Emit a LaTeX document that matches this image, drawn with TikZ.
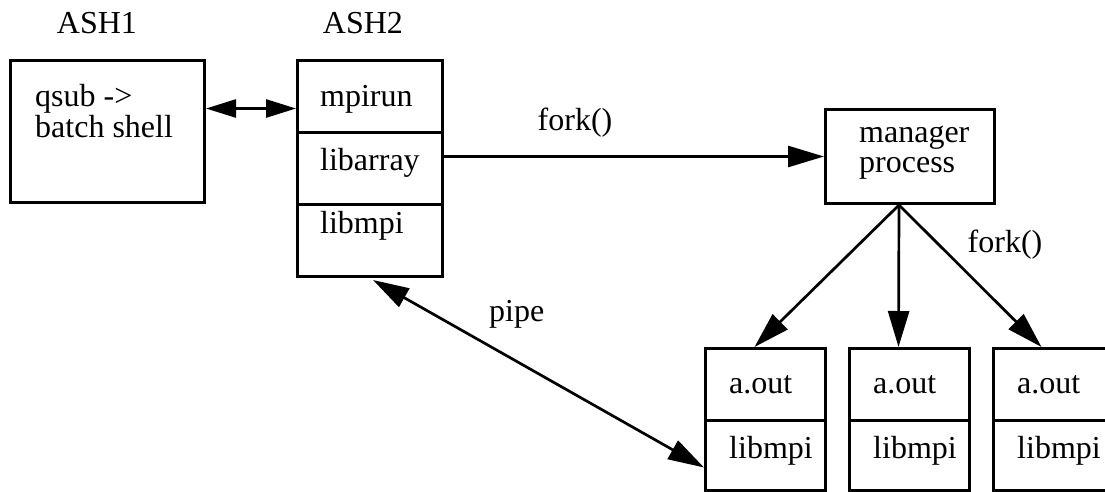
\documentclass[tikz,border=0pt]{standalone}
\usepackage{fontspec}
\setmainfont{Liberation Serif}
\newfontfamily\figfont{Liberation Serif}
\usetikzlibrary{arrows.meta}
\begin{document}
\begin{tikzpicture}[x=1pt,y=-1pt,
  cell/.style={draw,line width=3pt,rectangle,inner sep=0pt,anchor=north west},
  txt/.style={anchor=base west,inner sep=0pt,font=\figfont\fontsize{32}{31}\selectfont},
  ctxt/.style={anchor=base,inner sep=0pt,font=\figfont\fontsize{32}{31}\selectfont},
  link/.style={line width=2.7pt,-{Triangle[length=36pt,width=21pt]}},
  twoway/.style={line width=2.7pt,{Triangle[length=36pt,width=21pt]}-{Triangle[length=36pt,width=21pt]}},
  shortway/.style={line width=2.7pt,{Triangle[length=30pt,width=18pt]}-{Triangle[length=30pt,width=18pt]}},
]
\useasboundingbox (0,0) rectangle (1105,491);

% host headings
\node[ctxt] (lash1) at (97,33) {ASH1};
\node[ctxt] (lash2) at (363,33) {ASH2};

% batch shell on ASH1
\node[cell,minimum width=194pt,minimum height=142pt] (ash1) at (9,59) {};
\node[txt] (qsubA) at (35,106) {qsub ->};
\node[txt] (qsubB) at (35,137) {batch shell};

% mpirun stack on ASH2
\node[cell,minimum width=145pt,minimum height=72pt] (mpirun) at (296,59) {};
\node[cell,minimum width=145pt,minimum height=72pt] (libarray) at (296,131) {};
\node[cell,minimum width=145pt,minimum height=72pt] (libmpi) at (296,203) {};
\node[txt] (tmpirun) at (320,106) {mpirun};
\node[txt] (tlibarray) at (320,170) {libarray};
\node[txt] (tlibmpi) at (320,233) {libmpi};

% manager process
\node[cell,minimum width=169pt,minimum height=94pt] (manager) at (824,108) {};
\node[txt] (tmanA) at (859,142) {manager};
\node[txt] (tmanB) at (859,172) {process};

% application processes
\foreach \i/\x in {1/704,2/848,3/992}{
  \node[cell,minimum width=120pt,minimum height=72pt] (c\i a) at (\x,347) {};
  \node[cell,minimum width=120pt,minimum height=70pt] (c\i b) at (\x,419) {};
  \node[txt] (t\i a) at (\x+25,393) {a.out};
  \node[txt] (t\i b) at (\x+25,458) {libmpi};
}

% connectors
\draw[shortway] ([yshift=23pt]ash1.east) -- ([yshift=23pt]ash1.east -| mpirun.west);
\draw[link] (libarray.east |- manager.west) -- (manager.west);
\node[ctxt] (lfork1) at (575,130) {fork()};

\coordinate (fan) at ([xshift=-11pt]manager.south);
\draw[link] (fan) -- ([xshift=-11pt]c1a.north);
\draw[link] (fan) -- ([xshift=-11pt]c2a.north);
\draw[link] (fan) -- ([xshift=-12pt]c3a.north);
\node[ctxt] (lfork2) at (1005,252) {fork()};

\draw[twoway] ([xshift=3pt,yshift=-2pt]libmpi.south) -- ([yshift=-12pt]c1b.west);
\node[txt] (lpipe) at (489,321) {pipe};
\end{tikzpicture}
\end{document}
